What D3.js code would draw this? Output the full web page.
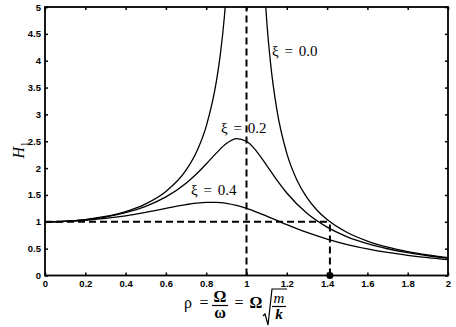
<!DOCTYPE html>
<html>
<head>
<meta charset="utf-8">
<script src="https://cdn.jsdelivr.net/npm/d3@7"></script>
<style>
  body { margin: 0; background: #fff; }
  svg { display: block; }
</style>
</head>
<body>
<svg width="456" height="327"></svg>
<script>
// values
var xTicks = [0, 0.2, 0.4, 0.6, 0.8, 1, 1.2, 1.4, 1.6, 1.8, 2];
var yTicks = [0, 0.5, 1, 1.5, 2, 2.5, 3, 3.5, 4, 4.5, 5];

// xi = 0.0, two branches either side of the resonance
var rhoLeft = [0, 0.1, 0.2, 0.3, 0.4, 0.5, 0.6, 0.7, 0.75, 0.8, 0.85, 0.87, 0.89, 0.9];
var h0Left = [1, 1.010, 1.042, 1.099, 1.190, 1.333, 1.563, 1.961, 2.286, 2.778, 3.604, 4.114, 4.810, 5.263];
var rhoRight = [1.09, 1.1, 1.12, 1.15, 1.2, 1.25, 1.3, 1.35, 1.4, 1.5, 1.6, 1.7, 1.8, 1.9, 2.0];
var h0Right = [5.316, 4.762, 3.931, 3.101, 2.273, 1.778, 1.449, 1.216, 1.042, 0.8, 0.641, 0.529, 0.446, 0.383, 0.333];

// xi = 0.2 and xi = 0.4
var rho = [0, 0.1, 0.2, 0.3, 0.4, 0.5, 0.6, 0.7, 0.75, 0.8, 0.85, 0.9, 0.95, 1.0, 1.05, 1.1, 1.15, 1.2, 1.3, 1.4, 1.5, 1.6, 1.7, 1.8, 1.9, 2.0];
var h02 = [1, 1.009, 1.038, 1.089, 1.169, 1.288, 1.463, 1.719, 1.885, 2.076, 2.279, 2.457, 2.549, 2.5, 2.313, 2.051, 1.780, 1.536, 1.157, 0.900, 0.721, 0.593, 0.498, 0.425, 0.368, 0.322];
var h04 = [1, 1.007, 1.027, 1.063, 1.112, 1.176, 1.25, 1.320, 1.347, 1.362, 1.362, 1.343, 1.305, 1.25, 1.182, 1.105, 1.026, 0.947, 0.801, 0.678, 0.577, 0.496, 0.429, 0.376, 0.331, 0.294];

var rhoMark = 1.414;

var svg = d3.select('svg');
var pLeft = 45, pRight = 448, pTop = 7, pBottom = 275.5;

var x = d3.scaleLinear().domain([0, 2]).range([pLeft, pRight]);
var y = d3.scaleLinear().domain([0, 5]).range([pBottom, pTop]);

svg.append('clipPath').attr('id', 'plot')
    .append('rect')
    .attr('x', pLeft).attr('y', pTop)
    .attr('width', pRight - pLeft).attr('height', pBottom - pTop);

// axes with inward ticks on all four sides
function styleAxis(g) {
    g.select('.domain').remove();
    g.selectAll('.tick line').attr('stroke', '#000').attr('stroke-width', 1.5);
    g.selectAll('.tick text')
        .attr('font-family', 'Liberation Sans, Arial, sans-serif')
        .attr('font-size', 9.5)
        .attr('font-weight', 'bold')
        .attr('fill', '#000');
}

svg.append('g')
    .attr('transform', 'translate(0,' + pBottom + ')')
    .call(d3.axisBottom(x).tickValues(xTicks).tickSizeInner(-3).tickSizeOuter(0).tickPadding(5).tickFormat(d3.format('')))
    .call(styleAxis);

svg.append('g')
    .attr('transform', 'translate(0,' + pTop + ')')
    .call(d3.axisTop(x).tickValues(xTicks).tickSizeInner(-3).tickSizeOuter(0).tickFormat(''))
    .call(styleAxis);

svg.append('g')
    .attr('transform', 'translate(' + pLeft + ',0)')
    .call(d3.axisLeft(y).tickValues(yTicks).tickSizeInner(-3).tickSizeOuter(0).tickPadding(4).tickFormat(d3.format('')))
    .call(styleAxis);

svg.append('g')
    .attr('transform', 'translate(' + pRight + ',0)')
    .call(d3.axisRight(y).tickValues(yTicks).tickSizeInner(-3).tickSizeOuter(0).tickFormat(''))
    .call(styleAxis);

svg.append('rect')
    .attr('x', pLeft).attr('y', pTop)
    .attr('width', pRight - pLeft).attr('height', pBottom - pTop)
    .attr('fill', 'none')
    .attr('stroke', '#000')
    .attr('stroke-width', 1.8);

// dashed guide lines
var dash = '7,4';
svg.append('line')
    .attr('x1', x(0)).attr('y1', y(1))
    .attr('x2', x(rhoMark)).attr('y2', y(1))
    .attr('stroke', '#000').attr('stroke-width', 2).attr('stroke-dasharray', dash);
svg.append('line')
    .attr('x1', x(1)).attr('y1', y(0))
    .attr('x2', x(1)).attr('y2', y(5))
    .attr('stroke', '#000').attr('stroke-width', 2).attr('stroke-dasharray', dash);
svg.append('line')
    .attr('x1', x(rhoMark)).attr('y1', y(0))
    .attr('x2', x(rhoMark)).attr('y2', y(1))
    .attr('stroke', '#000').attr('stroke-width', 2).attr('stroke-dasharray', dash);

// curves
var line = d3.line()
    .x(function(d) { return x(d[0]); })
    .y(function(d) { return y(d[1]); })
    .curve(d3.curveMonotoneX);

var series = [
    d3.zip(rhoLeft, h0Left),
    d3.zip(rhoRight, h0Right),
    d3.zip(rho, h02),
    d3.zip(rho, h04)
];

svg.append('g')
    .attr('clip-path', 'url(#plot)')
    .selectAll('path')
    .data(series)
    .enter()
    .append('path')
    .attr('d', line)
    .attr('fill', 'none')
    .attr('stroke', '#000')
    .attr('stroke-width', 1.3);

svg.append('circle')
    .attr('cx', x(rhoMark)).attr('cy', y(0))
    .attr('r', 3.5)
    .attr('fill', '#000');

// curve labels
var serif = 'Liberation Serif, Times New Roman, serif';
var labels = [
    { t: '\u03BE = 0.0', x: 272, y: 56 },
    { t: '\u03BE = 0.2', x: 221, y: 133 },
    { t: '\u03BE = 0.4', x: 191, y: 195 }
];
svg.selectAll('.lbl')
    .data(labels)
    .enter()
    .append('text')
    .attr('class', 'lbl')
    .attr('x', function(d) { return d.x; })
    .attr('y', function(d) { return d.y; })
    .attr('font-family', serif)
    .attr('font-size', 15)
    .attr('word-spacing', 2)
    .text(function(d) { return d.t; });

// y axis label H1
var yl = svg.append('text')
    .attr('transform', 'translate(24,150) rotate(-90)')
    .attr('text-anchor', 'middle')
    .attr('font-family', serif)
    .attr('font-size', 16);
yl.append('tspan').attr('font-style', 'italic').text('H');
yl.append('tspan').attr('font-size', 11).attr('dy', 4).text('1');

// x axis label  rho = Omega/omega = Omega sqrt(m/k)
var xl = svg.append('g')
    .attr('font-family', serif)
    .attr('font-size', 16)
    .attr('text-anchor', 'middle');
xl.append('text').attr('x', 188).attr('y', 308).text('\u03C1');
xl.append('text').attr('x', 204).attr('y', 308).text('=');
xl.append('text').attr('x', 220).attr('y', 302).attr('font-weight', 'bold').text('\u03A9');
xl.append('line').attr('x1', 212).attr('x2', 228).attr('y1', 305.5).attr('y2', 305.5)
    .attr('stroke', '#000').attr('stroke-width', 1.2);
xl.append('text').attr('x', 220).attr('y', 318).attr('font-weight', 'bold').text('\u03C9');
xl.append('text').attr('x', 239).attr('y', 308).text('=');
xl.append('text').attr('x', 256).attr('y', 308).attr('font-weight', 'bold').text('\u03A9');
xl.append('path')
    .attr('d', 'M263,316 L265,314 L268,325 L272,289 L287,289')
    .attr('fill', 'none').attr('stroke', '#000').attr('stroke-width', 1.2);
xl.append('text').attr('x', 279).attr('y', 303).attr('font-style', 'italic').attr('font-size', 15).text('m');
xl.append('line').attr('x1', 272).attr('x2', 286).attr('y1', 306.5).attr('y2', 306.5)
    .attr('stroke', '#000').attr('stroke-width', 1.2);
xl.append('text').attr('x', 279).attr('y', 319).attr('font-style', 'italic').attr('font-weight', 'bold').attr('font-size', 15).text('k');
</script>
</body>
</html>
